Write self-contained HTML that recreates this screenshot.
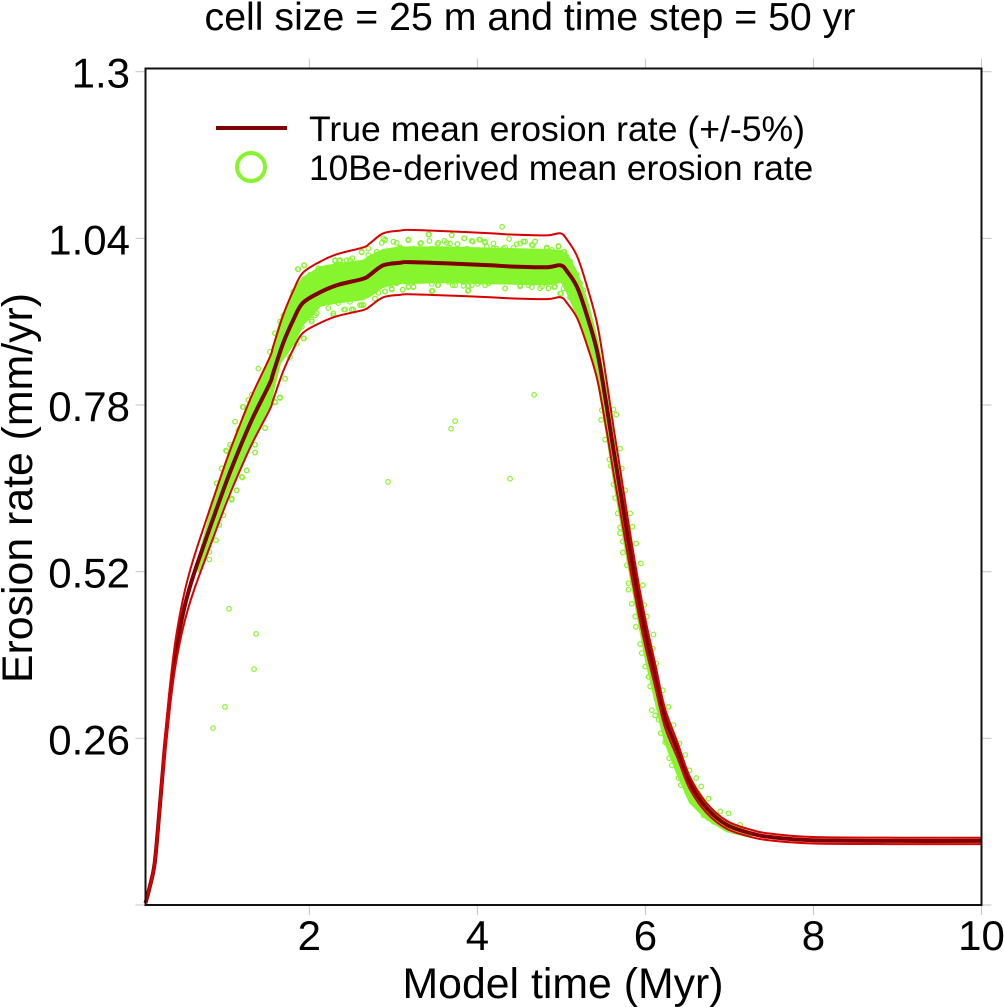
<!DOCTYPE html>
<html lang="en">
<head>
<meta charset="utf-8">
<title>Erosion rate chart</title>
<style>
html,body{margin:0;padding:0;background:#fff;}
body{width:1004px;height:1007px;overflow:hidden;}
svg{display:block;font-family:"Liberation Sans",Arial,sans-serif;fill:#000;}
</style>
</head>
<body>
<svg id="chart" width="1004" height="1007" viewBox="0 0 1004 1007" xmlns="http://www.w3.org/2000/svg">
  <rect x="0" y="0" width="1004" height="1007" fill="#ffffff"></rect>
  <text x="530" y="30" text-anchor="middle" font-size="39.3">cell size = 25 m and time step = 50 yr</text>
  <g id="marks"></g>
  <g id="axes"></g>
  <text x="563" y="998" text-anchor="middle" font-size="42.8">Model time (Myr)</text>
  <text transform="translate(32,488) rotate(-90)" text-anchor="middle" font-size="42.8">Erosion rate (mm/yr)</text>
  <g>
    <line x1="216" y1="128" x2="287" y2="128" stroke="#7f0000" stroke-width="4"></line>
    <text x="309" y="141" font-size="35.6">True mean erosion rate (+/-5%)</text>
    <circle cx="251" cy="167" r="14" fill="none" stroke="#86f52e" stroke-width="4"></circle>
    <text x="309" y="180" font-size="35.3">10Be-derived mean erosion rate</text>
  </g>
</svg>
<script>
const xTicks = [2, 4, 6, 8, 10];
const yTicks = [0, 0.26, 0.52, 0.78, 1.04, 1.3];
const yTickLabels = ["", "0.26", "0.52", "0.78", "1.04", "1.3"];
const xDomain = [0.05, 10];
const yDomain = [0, 1.305];
const bandFraction = 0.05;

const meanTime = [0.05,0.10,0.16,0.22,0.28,0.34,0.40,0.46,0.52,0.58,0.64,0.70,0.85,1.02,1.175,1.33,1.53,1.57,1.69,1.81,1.92,2.13,2.33,2.64,2.72,2.88,3.08,3.18,3.64,4.15,4.43,4.83,4.99,5.07,5.19,5.31,5.43,5.54,5.62,5.70,5.79,5.90,6.00,6.12,6.23,6.38,6.53,6.73,6.97,7.25,7.49,8.0,9.03,10];
const meanRate = [0.003,0.028,0.066,0.153,0.246,0.324,0.387,0.432,0.468,0.497,0.522,0.545,0.601,0.663,0.714,0.761,0.814,0.830,0.877,0.913,0.939,0.956,0.967,0.977,0.983,0.998,1.002,1.003,1.001,0.998,0.996,0.995,0.998,0.988,0.963,0.917,0.861,0.777,0.710,0.647,0.574,0.491,0.424,0.356,0.293,0.242,0.190,0.151,0.125,0.112,0.106,0.101,0.100,0.100];

const cloudTime = [0.68,0.85,1.02,1.175,1.33,1.53,1.65,1.81,1.92,2.13,2.33,2.64,2.72,2.88,3.08,3.64,4.15,4.83,5.0,5.07,5.19,5.31,5.43,5.54,5.62,5.79,6.0,6.23,6.38,6.53,6.73,6.97,7.25];
const cloudUpper = [0.54,0.625,0.69,0.745,0.79,0.85,0.909,0.958,0.978,0.995,1.0,1.005,1.012,1.022,1.026,1.026,1.024,1.022,1.020,1.015,0.985,0.94,0.88,0.795,0.725,0.585,0.435,0.305,0.252,0.198,0.158,0.128,0.113];
const cloudLower = [0.52,0.58,0.64,0.685,0.73,0.78,0.845,0.875,0.905,0.935,0.94,0.945,0.95,0.965,0.970,0.972,0.970,0.968,0.972,0.955,0.92,0.875,0.82,0.735,0.665,0.535,0.385,0.255,0.205,0.160,0.134,0.115,0.106];

const sampleTime = [
0.854,0.996,1.044,1.342,1.366,2.937,3.687,3.735,4.389,4.675,4.294,
3.425,3.695,3.846,3.179,2.902,2.862,3.001,3.080,3.330,3.429,3.525,3.608,3.675,3.763,3.933,4.021,4.092,4.191,4.378,4.330,4.429,4.509,4.568,4.660,4.687,4.826,4.965,5.025,4.886,4.231,
3.112,2.902,2.981,3.239,3.179,3.457,3.469,3.529,3.707,3.834,3.894,3.886,4.005,4.092,4.330,4.509,4.648,4.767,4.846,4.914,4.985,2.644,2.604,2.644,2.505,2.783,2.822,2.743,2.882,5.104,5.025,
1.862,1.941,2.108,2.008,2.306,2.354,2.512,2.623,2.703,2.881,2.445,2.207,1.810,1.651,1.592,1.532,1.393,1.314,1.207,1.155,1.008,0.957,0.897,1.274,1.076,
1.929,1.850,2.028,2.088,2.286,2.413,2.524,2.623,2.782,1.770,1.711,1.651,1.592,1.473,1.353,1.353,1.254,1.195,1.135,1.076,
5.481,5.473,5.521,5.572,5.588,5.620,5.640,5.671,5.699,5.699,5.731,5.731,5.779,5.798,5.798,5.838,5.878,5.886,5.937,5.957,5.997,6.037,6.056,6.076,6.116,6.156,6.183,6.235,6.283,6.314,6.394,6.421,6.493,6.612,6.691,6.810,6.949,7.048,
5.620,5.652,5.699,5.719,5.759,5.818,5.846,5.890,5.945,5.969,5.985,6.017,6.096,6.088,6.128,6.207,6.275,6.334,6.406,6.473,6.525,6.604,6.664,6.751,6.890,6.989,7.128,
1.869,1.937,2.107,2.008,2.028,1.949,2.147,2.306,2.365,2.484,2.623,2.703,2.802,2.286,2.524,2.722,2.881,1.810,1.770,1.691,1.592,1.711,
1.937,1.909,1.830,2.028,2.068,2.226,2.286,2.425,2.504,2.623,2.722,2.901,3.040,2.484,2.345,2.167,2.048,1.969,1.869,1.770,1.711,1.711,1.592,
2.90,3.04,3.18,3.32,3.417,3.536,3.636,3.695,3.763,3.842,3.945,4.032,4.112,3.08,3.239,3.457,3.874,
2.90,2.98,3.112,3.239,3.239,3.457,3.536,3.735,3.894,3.933,4.032,4.132,3.18,3.655,3.834,
4.151,4.33,4.508,4.607,4.746,4.845,4.925,4.996,5.072,5.123,
4.09,4.19,4.31,4.468,4.548,4.647,4.687,4.826,4.965,5.036,5.103,5.183,5.222,5.262,
1.215,1.116,1.056,1.017,0.957,0.898,0.858,
1.651,1.592,1.473,1.354,1.354,1.255,1.203,1.136,1.076,0.977,0.929,0.89,0.81,0.81];
const sampleRate = [
0.276,0.309,0.462,0.368,0.423,0.660,0.743,0.755,0.665,0.796,1.058,
1.046,1.045,1.040,1.038,1.038,1.033,1.035,1.026,1.033,1.036,1.031,1.036,1.032,1.031,1.036,1.038,1.033,1.032,1.039,1.026,1.025,1.032,1.035,1.029,1.035,1.024,1.028,1.019,1.022,1.024,
0.960,0.957,0.960,0.964,0.964,0.969,0.958,0.967,0.967,0.966,0.966,0.958,0.969,0.967,0.962,0.965,0.964,0.965,0.962,0.964,0.954,0.950,0.936,0.936,0.929,0.946,0.955,0.957,0.967,0.948,0.962,
0.992,0.998,0.993,0.983,1.005,1.005,1.009,1.018,1.024,1.040,1.006,0.988,0.954,0.910,0.892,0.863,0.837,0.796,0.777,0.741,0.709,0.681,0.658,0.788,0.715,
0.884,0.876,0.910,0.923,0.923,0.929,0.929,0.936,0.946,0.855,0.821,0.791,0.785,0.744,0.718,0.706,0.678,0.668,0.647,0.634,
0.772,0.757,0.726,0.695,0.685,0.656,0.635,0.611,0.589,0.580,0.567,0.550,0.530,0.502,0.492,0.470,0.450,0.434,0.407,0.393,0.372,0.356,0.341,0.304,0.296,0.289,0.268,0.254,0.229,0.218,0.198,0.187,0.177,0.156,0.140,0.130,0.122,0.116,
0.773,0.765,0.712,0.681,0.647,0.611,0.590,0.564,0.533,0.499,0.468,0.450,0.422,0.400,0.377,0.335,0.309,0.281,0.252,0.234,0.210,0.198,0.185,0.166,0.146,0.143,0.125,
0.992,0.998,0.993,0.983,0.972,0.972,0.985,1.006,1.006,1.006,1.019,1.014,1.019,0.993,0.993,1.001,1.006,0.957,0.936,0.920,0.892,0.897,
0.884,0.902,0.892,0.913,0.920,0.931,0.920,0.929,0.929,0.936,0.954,0.957,0.970,0.941,0.939,0.939,0.931,0.915,0.915,0.887,0.866,0.821,0.827,
1.037,1.033,1.037,1.032,1.046,1.033,1.033,1.045,1.031,1.040,1.035,1.038,1.027,1.024,1.024,1.024,1.024,
0.957,0.962,0.960,0.972,0.965,0.958,0.967,0.967,0.959,0.967,0.972,0.970,0.965,0.972,0.972,
0.972,0.962,0.967,0.967,0.962,0.962,0.965,0.954,0.962,0.967,
1.035,1.024,1.024,1.031,1.035,1.030,1.035,1.026,1.027,1.019,1.004,0.983,0.970,0.959,
0.777,0.754,0.718,0.708,0.681,0.658,0.627,
0.792,0.784,0.744,0.718,0.706,0.678,0.667,0.647,0.632,0.608,0.593,0.569,0.551,0.539];

const plot = {left: 145.5, right: 981.5, top: 68.5, bottom: 905};
const NS = "http://www.w3.org/2000/svg";
const marks = document.getElementById("marks");
const axes = document.getElementById("axes");

function xScale(t) {
  return plot.left + (t - xDomain[0]) / (xDomain[1] - xDomain[0]) * (plot.right - plot.left);
}
function yScale(v) {
  return plot.bottom - (v - yDomain[0]) / (yDomain[1] - yDomain[0]) * (plot.bottom - plot.top);
}
function make(tag, attrs, parent) {
  const el = document.createElementNS(NS, tag);
  for (const k in attrs) el.setAttribute(k, attrs[k]);
  parent.appendChild(el);
  return el;
}
function pointString(ts, vs) {
  return ts.map(function (t, i) { return xScale(t).toFixed(2) + "," + yScale(vs[i]).toFixed(2); }).join(" ");
}
function smoothPath(ts, vs) {
  const p = ts.map(function (t, i) { return [xScale(t), yScale(vs[i])]; });
  let d = "M" + p[0][0].toFixed(2) + " " + p[0][1].toFixed(2);
  for (let i = 0; i < p.length - 1; i++) {
    const a = p[Math.max(0, i - 1)], b = p[i], c = p[i + 1], e = p[Math.min(p.length - 1, i + 2)];
    const c1x = b[0] + (c[0] - a[0]) / 6, c1y = b[1] + (c[1] - a[1]) / 6;
    const c2x = c[0] - (e[0] - b[0]) / 6, c2y = c[1] - (e[1] - b[1]) / 6;
    d += "C" + c1x.toFixed(2) + " " + c1y.toFixed(2) + " " + c2x.toFixed(2) + " " + c2y.toFixed(2) + " " + c[0].toFixed(2) + " " + c[1].toFixed(2);
  }
  return d;
}

const cloudPts = pointString(cloudTime, cloudUpper) + " " +
  pointString(cloudTime.slice().reverse(), cloudLower.slice().reverse());
const cloud = make("polygon", {points: cloudPts, fill: "#86f52e", stroke: "#86f52e", "stroke-width": 2, "stroke-linejoin": "round"}, marks);



sampleTime.forEach(function (t, i) {
  const c = make("circle", {cx: xScale(t).toFixed(2), cy: yScale(sampleRate[i]).toFixed(2), r: 2.3, fill: "none", stroke: "#86f52e", "stroke-width": 1.2}, marks);
  
  
});

const meanLine = make("path", {d: smoothPath(meanTime, meanRate), fill: "none", stroke: "#7f0000", "stroke-width": 4, "stroke-linejoin": "round"}, marks);



const upperLine = make("path", {d: smoothPath(meanTime, meanRate.map(function (v) { return v * (1 + bandFraction); })), fill: "none", stroke: "#d80000", "stroke-width": 2, "stroke-linejoin": "round"}, marks);



const lowerLine = make("path", {d: smoothPath(meanTime, meanRate.map(function (v) { return v * (1 - bandFraction); })), fill: "none", stroke: "#d80000", "stroke-width": 2, "stroke-linejoin": "round"}, marks);



xTicks.forEach(function (t) {
  const x = xScale(t);
  const bottomTick = make("line", {x1: x, y1: plot.bottom, x2: x, y2: plot.bottom + 10, stroke: "#c4c4c4", "stroke-width": 1}, axes);
  
  
  const topTick = make("line", {x1: x, y1: plot.top, x2: x, y2: plot.top - 10, stroke: "#c4c4c4", "stroke-width": 1}, axes);
  
  
  const label = make("text", {x: x, y: 950, "text-anchor": "middle", "font-size": 42}, axes);
  label.textContent = String(t);
  
  
});

yTicks.forEach(function (v, i) {
  const y = yScale(v);
  const leftTick = make("line", {x1: plot.left, y1: y, x2: plot.left - 10, y2: y, stroke: "#c4c4c4", "stroke-width": 1}, axes);
  
  
  const rightTick = make("line", {x1: plot.right, y1: y, x2: plot.right + 10, y2: y, stroke: "#c4c4c4", "stroke-width": 1}, axes);
  
  
  const label = make("text", {x: 130, y: y + 16, "text-anchor": "end", "font-size": 42}, axes);
  label.textContent = yTickLabels[i];
  
  
});

const frame = make("rect", {x: plot.left, y: plot.top, width: plot.right - plot.left, height: plot.bottom - plot.top, fill: "none", stroke: "#111111", "stroke-width": 2}, axes);


</script>
</body>
</html>
